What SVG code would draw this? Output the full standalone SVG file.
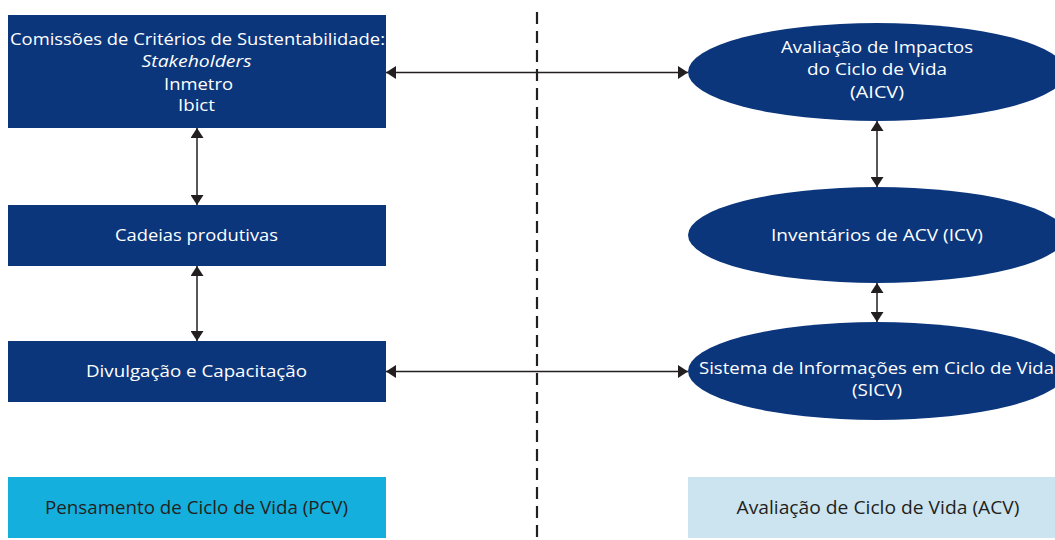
<svg xmlns="http://www.w3.org/2000/svg" width="1055" height="540" viewBox="0 0 1055 540">
<style>
.box{fill:#0b367c}
.t{font-family:"Open Sans","Noto Sans",sans-serif;font-size:17px;fill:#ffffff;text-anchor:middle}
.b{font-family:"Open Sans","Noto Sans",sans-serif;font-size:18.5px;fill:#231f20;text-anchor:middle}
.c{stroke:#231f20;stroke-width:1.5;fill:none;marker-start:url(#ah);marker-end:url(#ah)}
</style>
<defs>
<marker id="ah" markerUnits="userSpaceOnUse" markerWidth="11" markerHeight="13" refX="10" refY="6.5" orient="auto-start-reverse">
<path d="M0,0 L10,6.5 L0,13 Z" fill="#231f20"/>
</marker>
</defs>
<rect width="1055" height="540" fill="#ffffff"/>
<line x1="537" y1="12" x2="537" y2="540" stroke="#231f20" stroke-width="2.2" stroke-dasharray="12 7"/>
<g id="comissoes">
<rect class="box" x="8" y="15" width="378" height="113"/>
<text class="t" x="197.5" y="44.5" textLength="375" lengthAdjust="spacingAndGlyphs">Comissões de Critérios de Sustentabilidade:</text>
<text class="t" x="196.5" y="67" font-style="italic" textLength="110" lengthAdjust="spacingAndGlyphs">Stakeholders</text>
<text class="t" x="198.5" y="89.5" textLength="69" lengthAdjust="spacingAndGlyphs">Inmetro</text>
<text class="t" x="196.5" y="111" textLength="37" lengthAdjust="spacingAndGlyphs">Ibict</text>
</g>
<g id="cadeias">
<rect class="box" x="8" y="205" width="378" height="61"/>
<text class="t" x="196.5" y="240.5" textLength="163" lengthAdjust="spacingAndGlyphs">Cadeias produtivas</text>
</g>
<g id="divulgacao">
<rect class="box" x="8" y="341" width="378" height="61"/>
<text class="t" x="196.5" y="377" textLength="221" lengthAdjust="spacingAndGlyphs">Divulgação e Capacitação</text>
</g>
<g id="aicv">
<ellipse class="box" cx="877" cy="72" rx="189" ry="49"/>
<text class="t" x="877" y="53" textLength="192" lengthAdjust="spacingAndGlyphs">Avaliação de Impactos</text>
<text class="t" x="877" y="75" textLength="140" lengthAdjust="spacingAndGlyphs">do Ciclo de Vida</text>
<text class="t" x="877" y="97.5" textLength="54" lengthAdjust="spacingAndGlyphs">(AICV)</text>
</g>
<g id="icv">
<ellipse class="box" cx="877" cy="235" rx="189" ry="48"/>
<text class="t" x="877" y="241" textLength="212" lengthAdjust="spacingAndGlyphs">Inventários de ACV (ICV)</text>
</g>
<g id="sicv">
<ellipse class="box" cx="877" cy="371" rx="189" ry="49"/>
<text class="t" x="876.5" y="374" textLength="355" lengthAdjust="spacingAndGlyphs">Sistema de Informações em Ciclo de Vida</text>
<text class="t" x="877" y="396" textLength="50" lengthAdjust="spacingAndGlyphs">(SICV)</text>
</g>
<g id="pcv">
<rect x="8" y="477" width="378" height="61" fill="#14afdd"/>
<text class="b" x="196.5" y="514" textLength="303" lengthAdjust="spacingAndGlyphs">Pensamento de Ciclo de Vida (PCV)</text>
</g>
<g id="acv">
<rect x="688" y="477" width="367" height="61" fill="#cce4f0"/>
<text class="b" x="878" y="514" textLength="283" lengthAdjust="spacingAndGlyphs">Avaliação de Ciclo de Vida (ACV)</text>
</g>
<g id="connectors">
<line class="c" x1="386" y1="72.5" x2="688" y2="72.5"/>
<line class="c" x1="386" y1="371.5" x2="688" y2="371.5"/>
<line class="c" x1="197" y1="128" x2="197" y2="205"/>
<line class="c" x1="197" y1="266" x2="197" y2="341"/>
<line class="c" x1="877" y1="121" x2="877" y2="187"/>
<line class="c" x1="877" y1="283" x2="877" y2="322"/>
</g>
</svg>
